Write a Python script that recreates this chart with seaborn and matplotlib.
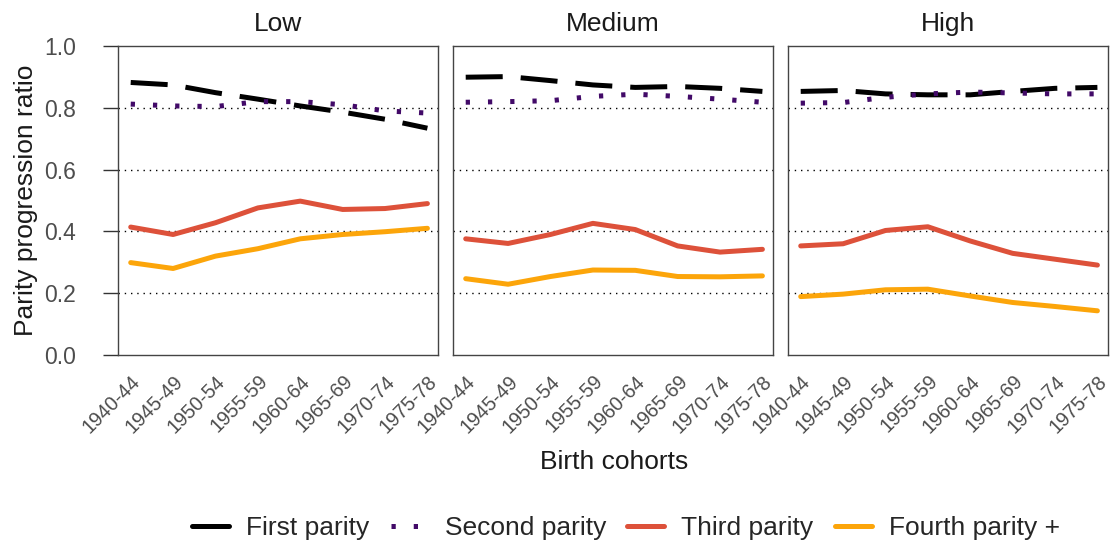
import numpy as np
import pandas as pd
import matplotlib
matplotlib.use("Agg")
import matplotlib.pyplot as plt
from matplotlib.lines import Line2D
import seaborn as sns

# -----------------------------
# Data
# -----------------------------
COHORTS = ["1940-44", "1945-49", "1950-54", "1955-59",
           "1960-64", "1965-69", "1970-74", "1975-78"]
PANELS = ["Low", "Medium", "High"]
PARITIES = ["First parity", "Second parity", "Third parity", "Fourth parity +"]

low_first  = [0.882, 0.874, 0.849, 0.828, 0.806, 0.786, 0.763, 0.734]
low_second = [0.812, 0.806, 0.804, 0.820, 0.820, 0.810, 0.790, 0.783]
low_third  = [0.414, 0.390, 0.428, 0.476, 0.498, 0.471, 0.474, 0.490]
low_fourth = [0.299, 0.280, 0.320, 0.344, 0.376, 0.390, 0.399, 0.410]

med_first  = [0.899, 0.901, 0.888, 0.874, 0.866, 0.869, 0.863, 0.853]
med_second = [0.818, 0.820, 0.823, 0.837, 0.844, 0.837, 0.828, 0.818]
med_third  = [0.376, 0.361, 0.390, 0.426, 0.406, 0.353, 0.333, 0.342]
med_fourth = [0.247, 0.229, 0.254, 0.275, 0.274, 0.254, 0.253, 0.256]

high_first  = [0.853, 0.856, 0.845, 0.842, 0.842, 0.853, 0.863, 0.866]
high_second = [0.815, 0.817, 0.834, 0.845, 0.851, 0.848, 0.845, 0.845]
high_third  = [0.353, 0.360, 0.403, 0.415, 0.369, 0.329, 0.310, 0.291]
high_fourth = [0.189, 0.197, 0.211, 0.213, 0.191, 0.170, 0.157, 0.143]

series = {
    "Low":    [low_first, low_second, low_third, low_fourth],
    "Medium": [med_first, med_second, med_third, med_fourth],
    "High":   [high_first, high_second, high_third, high_fourth],
}

rows = []
for panel in PANELS:
    for parity, vals in zip(PARITIES, series[panel]):
        for i, v in enumerate(vals):
            rows.append({"panel": panel, "parity": parity, "x": i, "ppr": v})
df = pd.DataFrame(rows)

COLORS = {
    "First parity":    "#000000",
    "Second parity":   "#420a68",
    "Third parity":    "#dd513a",
    "Fourth parity +": "#fca50a",
}
DASHES = {
    "First parity":    (7.4, 3.6),
    "Second parity":   (0.85, 3.6),
    "Third parity":    "",
    "Fourth parity +": "",
}
LW = 3.6
FS = 19
TICK_FS_X = 14.2
TICK_FS_Y = 16.5

# -----------------------------
# Plot
# -----------------------------
sns.set_theme(style="white")
plt.rcParams["font.family"] = ["Liberation Sans", "DejaVu Sans"]

fig = plt.figure(figsize=(11.16, 5.47), dpi=100)
W, H = 1116, 547
lefts = [118, 453, 788]
pw, top, bottom = 320, 46, 355

for k, panel in enumerate(PANELS):
    ax = fig.add_axes([lefts[k] / W, 1 - bottom / H, pw / W, (bottom - top) / H])
    sub = df[df["panel"] == panel]
    for y in [0.2, 0.4, 0.6, 0.8]:
        ax.axhline(y, color="black", lw=1.0, ls=(0, (1, 3.5)), zorder=0)
    sns.lineplot(data=sub, x="x", y="ppr", hue="parity", style="parity",
                 hue_order=PARITIES, style_order=PARITIES,
                 palette=COLORS, dashes=DASHES, linewidth=LW,
                 legend=False, ax=ax)
    ax.set_xlim(-0.3, 7.25)
    ax.set_ylim(0, 1)
    ax.set_xticks(range(len(COHORTS)))
    ax.set_xticklabels(COHORTS, rotation=45, ha="right",
                       rotation_mode="anchor", color="#4d4d4d",
                       fontsize=TICK_FS_X)
    ax.tick_params(axis="x", length=0, pad=12)
    ax.set_xlabel("")
    ax.set_ylabel("")
    ax.set_title(panel, fontsize=FS, pad=11, color="#1a1a1a")
    for s in ax.spines.values():
        s.set_color("#444444")
        s.set_linewidth(1.0)
    ax.set_yticks([0, 0.2, 0.4, 0.6, 0.8, 1.0])
    if k == 0:
        ax.set_yticklabels(["0.0", "0.2", "0.4", "0.6", "0.8", "1.0"],
                           color="#4d4d4d", fontsize=TICK_FS_Y)
        ax.tick_params(axis="y", left=True, length=11, width=1,
                       color="#333333", pad=19)
        ax.set_ylabel("Parity progression ratio", fontsize=FS, labelpad=5,
                      color="#1a1a1a")
    else:
        ax.set_yticklabels([])
        ax.tick_params(axis="y", left=False, length=0)

fig.text(614 / W, 1 - 462 / H, "Birth cohorts", ha="center", va="center",
         fontsize=FS, color="#1a1a1a")

handles = [
    Line2D([0], [0], color=COLORS["First parity"], lw=LW),
    Line2D([0], [0], color=COLORS["Second parity"], lw=LW,
           dashes=(0.85, 3.6)),
    Line2D([0], [0], color=COLORS["Third parity"], lw=LW),
    Line2D([0], [0], color=COLORS["Fourth parity +"], lw=LW),
]
fig.legend(handles, PARITIES, loc="center", ncol=4,
           bbox_to_anchor=(626 / W, 1 - 528 / H), frameon=False,
           fontsize=FS, handlelength=1.4, columnspacing=0.8,
           handletextpad=0.65)

fig.savefig("out.png", dpi=100)
